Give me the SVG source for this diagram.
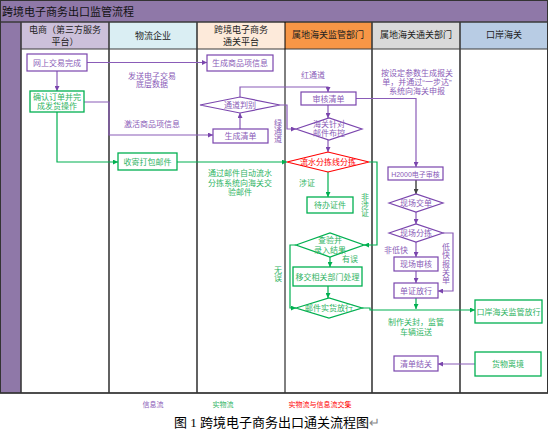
<svg xmlns="http://www.w3.org/2000/svg" width="548" height="433" viewBox="0 0 548 433">
<style>
text{font-family:"Liberation Sans","Noto Sans CJK SC",sans-serif;font-size:8px;text-anchor:middle}
.hd{font-size:9px;fill:#222}
.pt{fill:#8a5cb8}
.gt{fill:#2fb463}
.rt{fill:#ff0000}
.pb{fill:#fff;stroke:#7a45ad;stroke-width:1.2}
.gb{fill:#fff;stroke:#00b050;stroke-width:1.3}
.rb{fill:#fff;stroke:#ff0000;stroke-width:1.2}
.pl{fill:none;stroke:#8a5cb8;stroke-width:1.2}
.gl{fill:none;stroke:#00b050;stroke-width:1.2}
.kl{fill:none;stroke:#555;stroke-width:1.6}
.sep{stroke:#3a3a3a;stroke-width:1.6}
</style>
<defs>
<marker id="ap" viewBox="0 0 6 6" refX="6" refY="3" markerWidth="5" markerHeight="5" markerUnits="userSpaceOnUse" orient="auto"><path d="M0,0L6,3L0,6z" fill="#7a45ad"/></marker>
<marker id="ag" viewBox="0 0 6 6" refX="6" refY="3" markerWidth="5" markerHeight="5" markerUnits="userSpaceOnUse" orient="auto"><path d="M0,0L6,3L0,6z" fill="#00b050"/></marker>
<marker id="ak" viewBox="0 0 6 6" refX="6" refY="3" markerWidth="5" markerHeight="5" markerUnits="userSpaceOnUse" orient="auto"><path d="M0,0L6,3L0,6z" fill="#444"/></marker>
</defs>
<rect width="548" height="433" fill="#fff"/>
<g id="frame">
<rect x="0" y="0" width="548" height="22" fill="#8f78a8"/>
<text x="2" y="16" style="font-size:11px;text-anchor:start;fill:#111">跨境电子商务出口监管流程</text>
<rect x="0" y="22" width="21" height="371" fill="#8f78a8"/>
<rect x="21" y="22" width="88" height="27" fill="#ccc0da"/>
<rect x="109" y="22" width="88" height="27" fill="#daeef3"/>
<rect x="197" y="22" width="88" height="27" fill="#fdeada"/>
<rect x="285" y="22" width="87" height="27" fill="#f79646"/>
<rect x="372" y="22" width="88" height="27" fill="#d9d9d9"/>
<rect x="460" y="22" width="88" height="27" fill="#b8cce4"/>
<text class="hd" x="65" y="33">电商（第三方服务</text>
<text class="hd" x="65" y="45">平台）</text>
<text class="hd" x="153" y="39">物流企业</text>
<text class="hd" x="241" y="33">跨境电子商务</text>
<text class="hd" x="241" y="45">通关平台</text>
<text class="hd" x="328" y="38">属地海关监管部门</text>
<text class="hd" x="416" y="38">属地海关通关部门</text>
<text class="hd" x="504" y="38">口岸海关</text>
<line class="sep" x1="0" y1="22" x2="548" y2="22"/>
<line class="sep" x1="21" y1="49" x2="548" y2="49" style="stroke-width:1"/>
<line class="sep" x1="21" y1="22" x2="21" y2="393"/>
<line class="sep" x1="109" y1="22" x2="109" y2="393"/>
<line class="sep" x1="197" y1="22" x2="197" y2="393"/>
<line x1="285" y1="22" x2="285" y2="393" stroke="#000" stroke-width="1"/>
<line class="sep" x1="372" y1="22" x2="372" y2="393"/>
<line class="sep" x1="460" y1="22" x2="460" y2="393"/>
<line class="sep" x1="0" y1="393" x2="548" y2="393"/>
<rect x="0.5" y="0.5" width="547" height="392.5" fill="none" stroke="#333" stroke-width="1"/>
</g>
<g id="connectors">
<path class="pl" d="M87,62.5H207" marker-end="url(#ap)"/>
<path class="pl" d="M57,71V91" marker-end="url(#ap)"/>
<path class="pl" d="M84,102H109V135H213" marker-end="url(#ap)"/>
<path class="pl" d="M240,129V113" marker-end="url(#ap)"/>
<path class="pl" d="M240,97V87H328V92" marker-end="url(#ap)"/>
<path class="pl" d="M280,105H287V129H296" marker-end="url(#ap)"/>
<path class="pl" d="M328,105V118" marker-end="url(#ap)"/>
<path class="pl" d="M328,140V152" marker-end="url(#ap)"/>
<path class="pl" d="M356,98.5H416V167" marker-end="url(#ap)"/>
<path class="kl" d="M416,180V194" marker-end="url(#ak)"/>
<path class="pl" d="M416,212V224" marker-end="url(#ap)"/>
<path class="pl" d="M416,242V257" marker-end="url(#ap)"/>
<path class="pl" d="M416,271V283" marker-end="url(#ap)"/>
<path class="pl" d="M443,233H453V291H438" marker-end="url(#ap)"/>
<path class="pl" d="M475,364H438" marker-end="url(#ap)"/>
<path class="gl" d="M57,112V162H118" marker-end="url(#ag)"/>
<path class="gl" d="M177,162H287" marker-end="url(#ag)"/>
<path class="gl" d="M369,162H377V245H364" marker-end="url(#ag)"/>
<path class="gl" d="M328,172V197" marker-end="url(#ag)"/>
<path class="gl" d="M330,257V267" marker-end="url(#ag)"/>
<path class="gl" d="M328,286V298" marker-end="url(#ag)"/>
<path class="gl" d="M296,245H290V308H296" marker-end="url(#ag)"/>
<path class="gl" d="M362,308H370V310H475" marker-end="url(#ag)"/>
<path class="gl" d="M416,298V309" marker-end="url(#ag)"/>
</g>
<g id="n_online"><rect class="pb" x="27" y="54" width="60" height="17"/><text class="pt" x="57" y="65.5">网上交易完成</text></g>
<g id="n_confirm"><rect class="gb" x="30" y="91" width="54" height="21"/><text class="gt" x="57" y="99.5">确认订单并完</text><text class="gt" x="57" y="109">成发货操作</text></g>
<g id="n_pack"><rect class="gb" x="118" y="153" width="59" height="17"/><text class="gt" x="147.5" y="164.5">收寄打包邮件</text></g>
<g id="n_goods_info"><rect class="pb" x="207" y="55" width="66" height="16"/><text class="pt" x="240" y="66">生成商品项信息</text></g>
<g id="n_channel"><path class="pb" d="M200,105L240,97L280,105L240,113z"/><text class="pt" x="240" y="108">通道判别</text></g>
<g id="n_list"><rect class="pb" x="213" y="129" width="55" height="14"/><text class="pt" x="240.5" y="139">生成清单</text></g>
<g id="n_review"><rect class="pb" x="301" y="92" width="55" height="13"/><text class="pt" x="328.5" y="101.5">审核清单</text></g>
<g id="n_control"><path class="pb" d="M296,129L329,118L362,129L329,140z"/><text class="pt" x="329" y="127">海关针对</text><text class="pt" x="329" y="136">邮件布控</text></g>
<g id="n_sort"><path class="rb" d="M287,162L328,152L369,162L328,172z"/><text class="rt" x="328" y="165">流水分拣线分拣</text></g>
<g id="n_pending"><rect class="gb" x="307" y="197" width="46" height="16"/><text class="gt" x="330" y="208">待办证件</text></g>
<g id="n_inspect"><path class="gb" d="M296,245L330,233L364,245L330,257z"/><text class="gt" x="330" y="243">查验并</text><text class="gt" x="330" y="253">录入结果</text></g>
<g id="n_transfer"><rect class="gb" x="293" y="267" width="69" height="19"/><text class="gt" x="327.5" y="279.5">移交相关部门处理</text></g>
<g id="n_release"><path class="gb" d="M296,308L329,298L362,308L329,318z"/><text class="gt" x="329" y="311">邮件实货放行</text></g>
<g id="n_h2000"><rect class="pb" x="388" y="167" width="55" height="13"/><text class="pt" x="415.5" y="176.5" style="font-size:7px">H2000电子审核</text></g>
<g id="n_submit"><path class="pb" d="M389,203L416,194L443,203L416,212z"/><text class="pt" x="416" y="206">现场交单</text></g>
<g id="n_sitesort"><path class="pb" d="M389,233L416,224L443,233L416,242z"/><text class="pt" x="416" y="236">现场分拣</text></g>
<g id="n_siteaudit"><rect class="pb" x="394" y="257" width="44" height="14"/><text class="pt" x="416" y="267">现场审核</text></g>
<g id="n_docrelease"><rect class="pb" x="394" y="283" width="44" height="15"/><text class="pt" x="416" y="293.5">单证放行</text></g>
<g id="n_port"><rect class="gb" x="475" y="300" width="67" height="23"/><text class="gt" x="508.5" y="314.5">口岸海关监管放行</text></g>
<g id="n_close"><rect class="pb" x="394" y="356" width="44" height="15"/><text class="pt" x="416" y="366.5">清单结关</text></g>
<g id="n_depart"><rect class="gb" x="475" y="352" width="66" height="24"/><text class="gt" x="508" y="367">货物离境</text></g>
<g id="labels">
<text class="pt" x="152" y="79">发送电子交易</text>
<text class="pt" x="152" y="87">底层数据</text>
<text class="pt" x="152" y="127">激活商品项信息</text>
<text class="pt" x="313" y="78">红通道</text>
<text class="pt" x="278"><tspan x="278" y="126">绿</tspan><tspan x="278" y="134">通</tspan><tspan x="278" y="142">道</tspan></text>
<text class="pt" x="417" y="76">按设定参数生成报关</text>
<text class="pt" x="417" y="85">单，并通过“一步达”</text>
<text class="pt" x="417" y="94">系统向海关申报</text>
<text class="gt" x="240" y="176">通过邮件自动流水</text>
<text class="gt" x="240" y="186">分拣系统向海关交</text>
<text class="gt" x="240" y="195">验邮件</text>
<text class="gt" x="307" y="186">涉证</text>
<text class="gt" x="365"><tspan x="365" y="200">非</tspan><tspan x="365" y="208">涉</tspan><tspan x="365" y="216">证</tspan></text>
<text class="gt" x="350" y="262">有误</text>
<text class="gt" x="278"><tspan x="278" y="273">无</tspan><tspan x="278" y="281">误</tspan></text>
<text class="pt" x="396" y="253">非低快</text>
<text class="pt" x="446"><tspan x="446" y="250">低</tspan><tspan x="446" y="258">快</tspan><tspan x="446" y="267">报</tspan><tspan x="446" y="275">关</tspan><tspan x="446" y="283">单</tspan></text>
<text class="gt" x="416" y="325">制作关封，监管</text>
<text class="gt" x="416" y="335">车辆运送</text>
<text class="pt" x="153" y="407" style="font-size:7px">信息流</text>
<text class="gt" x="223" y="407" style="font-size:7px">实物流</text>
<text class="rt" x="320" y="407" style="font-size:7px">实物流与信息流交集</text>
<text x="277" y="427" style="font-size:13px;font-family:'Liberation Serif','Noto Sans CJK SC',serif;fill:#000">图 1 跨境电子商务出口通关流程图<tspan fill="#888">↵</tspan></text>
</g>
</svg>
